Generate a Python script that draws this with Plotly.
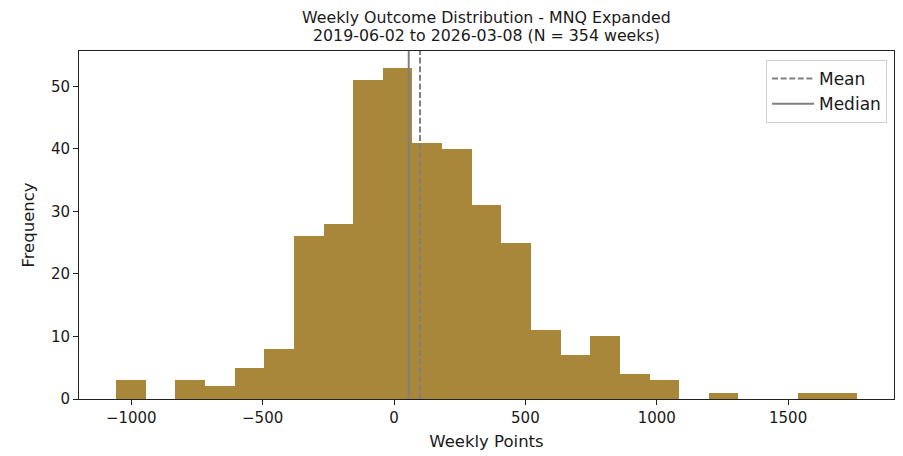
import numpy as np
import plotly.graph_objects as go

# ---- data ----
bin_min = -1058.0
bin_max = 1762.0
counts = [3, 0, 3, 2, 5, 8, 26, 28, 51, 53, 41, 40, 31, 25, 11, 7, 10, 4, 3, 0, 1, 0, 0, 1, 1]
mean_value = 99.0
median_value = 56.0
x_tick_vals = [-1000, -500, 0, 500, 1000, 1500]
y_tick_vals = [0, 10, 20, 30, 40, 50]
title_line1 = "Weekly Outcome Distribution - MNQ Expanded"
title_line2 = "2019-06-02 to 2026-03-08 (N = 354 weeks)"

# ---- derived geometry ----
n_bins = len(counts)
edges = np.linspace(bin_min, bin_max, n_bins + 1)
centers = (edges[:-1] + edges[1:]) / 2
width = edges[1] - edges[0]
span = bin_max - bin_min
x_range = [bin_min - 0.05 * span, bin_max + 0.05 * span]
y_top = max(counts) * 1.05

BAR = "#A8863A"
GRAY = "#808080"
TXT = "#1a1a1a"
FONT = "DejaVu Sans"

# the html page has an 8px body margin; size the figure to fit the 903x456 window
W, H = 895, 448
ML, MR, MT, MB = 71, 9, 43, 57
plot_h = H - MT - MB

fig = go.Figure()
fig.add_trace(go.Bar(x=centers, y=counts, width=[width] * n_bins,
                     marker=dict(color=BAR, line=dict(width=0)),
                     showlegend=False, hoverinfo="x+y"))
fig.add_trace(go.Scatter(x=[mean_value, mean_value], y=[0, y_top], mode="lines",
                         line=dict(color=GRAY, width=2, dash="6px,2.6px"),
                         name="Mean", legendgroup="mean"))
fig.add_trace(go.Scatter(x=[median_value, median_value], y=[0, y_top], mode="lines",
                         line=dict(color=GRAY, width=2),
                         name="Median", legendgroup="median"))

axis_common = dict(showline=True, linecolor="#222", linewidth=1, mirror=True,
                   ticks="outside", ticklen=5, tickcolor="#222", tickwidth=1,
                   showgrid=False, zeroline=False, automargin=False,
                   tickfont=dict(family=FONT, size=15, color=TXT))

fig.update_layout(
    template="none",
    width=W, height=H,
    margin=dict(l=ML, r=MR, t=MT, b=MB, autoexpand=False),
    paper_bgcolor="white", plot_bgcolor="white",
    bargap=0,
    font=dict(family=FONT, color=TXT),
    xaxis=dict(range=x_range, tickvals=x_tick_vals,
               title=dict(text="Weekly Points", font=dict(family=FONT, size=16.5, color=TXT), standoff=9),
               **axis_common),
    yaxis=dict(range=[0, y_top], tickvals=y_tick_vals,
               title=dict(text="Frequency", font=dict(family=FONT, size=16.5, color=TXT), standoff=12),
               **axis_common),
    legend=dict(x=0.9914, y=0.974, xanchor="right", yanchor="top",
                bgcolor="rgba(255,255,255,0.8)", bordercolor="#d0d0d0", borderwidth=1,
                font=dict(family=FONT, size=17, color=TXT), tracegroupgap=0,
                itemwidth=42),
    annotations=[
        dict(text=title_line1, xref="paper", yref="paper", x=0.5, y=1 + 33 / plot_h,
             xanchor="center", yanchor="middle", showarrow=False,
             font=dict(family=FONT, size=15.8, color=TXT)),
        dict(text=title_line2, xref="paper", yref="paper", x=0.5, y=1 + 16 / plot_h,
             xanchor="center", yanchor="middle", showarrow=False,
             font=dict(family=FONT, size=15.8, color=TXT)),
    ],
)

fig.write_html("out.html")
